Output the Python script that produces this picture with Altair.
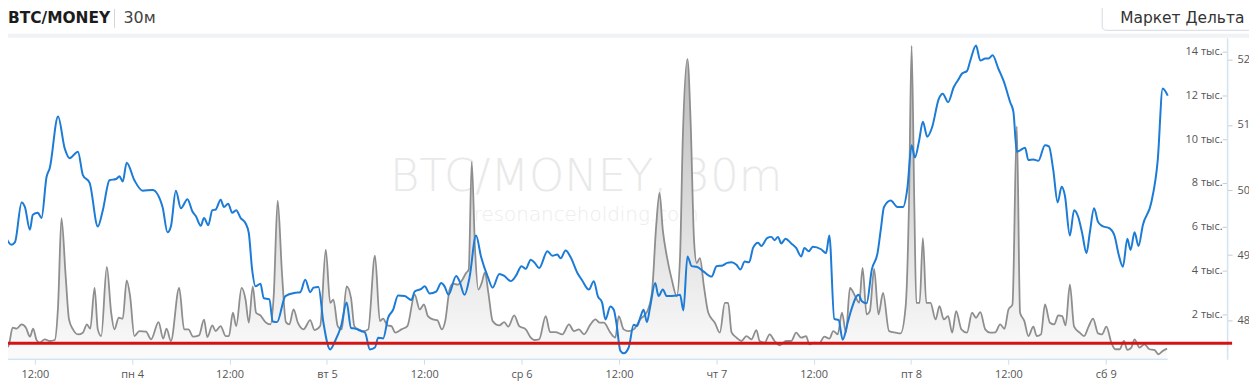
import json
import altair as alt
import pandas as pd

# ---------------- data ----------------
# hours relative to Mon 4, 00:00
price_hours = [-15.7, -14.9, -14.45, -13.63, -13.23, -12.61, -12.25, -11.63, -11.18, -10.56, -10.16, -9.14, -8.32, -7.71,
               -6.69, -6.08, -5.25, -4.24, -3.62, -2.8, -1.98, -1.57, -1.17, -0.68, 0.27, 1.29, 2.51, 3.74, 4.35, 4.77,
               5.38, 6.0, 6.81, 7.42, 7.84, 8.45, 8.85, 9.38, 9.87, 10.29, 10.90, 11.31, 11.83, 12.33, 12.82, 13.36,
               13.97, 14.37, 14.78, 15.20, 15.81, 16.21, 16.91, 17.32, 17.85, 18.88, 20.10, 20.72, 21.33, 21.94, 22.35,
               22.96, 23.57, 24.40, 25.01, 25.75, 26.43, 26.97, 27.46, 28.27, 28.69, 29.30, 29.92, 30.32, 30.93, 31.55,
               32.16, 32.77, 33.60, 34.41, 34.82, 35.63, 36.05, 36.66, 37.47, 38.09, 38.50, 38.99, 39.93, 40.34, 40.96,
               41.57, 42.38, 42.99, 43.82, 44.43, 45.25, 45.86, 46.67, 47.29, 47.99, 48.51, 49.13, 49.62, 50.16, 51.18,
               51.79, 52.40, 52.81, 53.42, 54.03, 54.86, 55.47, 56.29, 56.90, 57.39, 57.92, 58.33, 58.94, 59.36, 59.68,
               60.17, 60.58, 61.20, 61.81, 62.22, 62.62, 63.04, 63.44, 63.85, 64.46, 64.88, 65.40, 65.90, 67.12, 67.53,
               67.94, 68.44, 68.96, 69.58, 70.40, 71.42, 72.03, 72.77, 73.34, 73.87, 74.48, 74.97, 75.50, 76.04, 76.53,
               77.14, 77.55, 78.25, 78.78, 79.18, 79.60, 80.00, 80.53, 81.23, 81.84, 82.46, 82.86, 83.40, 83.89, 84.91,
               85.52, 85.93, 86.54, 87.08, 87.57, 88.19, 88.59, 89.53, 89.94, 90.52, 91.17, 91.87, 92.27, 92.67, 93.50,
               94.32, 95.01, 95.55, 96.07, 96.48, 96.97, 97.46, 98.00, 98.61, 99.42, 99.91, 100.57, 101.26, 101.80,
               102.29, 102.90, 103.31, 104.01, 104.54, 105.15, 105.56, 106.05, 106.78, 107.40, 108.22, 108.62, 109.04,
               109.44, 110.06, 110.46, 111.08, 111.69, 112.51, 113.00, 113.53, 114.07, 114.56, 114.96, 115.58, 116.10,
               116.60, 117.09, 117.63, 118.03, 118.56, 119.05, 119.54, 120.48, 121.10, 121.59, 122.12, 122.66, 123.06,
               123.55, 124.04, 124.57, 125.60, 126.41, 127.02, 127.64]
price_values = [49.31, 49.16, 49.20, 49.81, 49.74, 49.39, 49.62, 49.65, 49.57, 50.20, 50.34, 51.13, 50.64, 50.49,
                50.59, 50.23, 50.11, 49.44, 49.69, 50.15, 50.17, 50.21, 50.13, 50.42, 50.15, 49.99, 50.00, 49.74, 49.35,
                49.44, 49.99, 49.72, 49.86, 49.67, 49.60, 49.45, 49.57, 49.46, 49.69, 49.70, 49.85, 49.74, 49.79, 49.65,
                49.69, 49.57, 49.49, 49.34, 48.78, 48.52, 48.56, 48.34, 48.32, 47.98, 47.97, 48.37, 48.42, 48.43, 48.62,
                48.43, 48.50, 48.51, 47.96, 47.55, 47.68, 47.91, 48.27, 47.88, 47.87, 47.83, 47.81, 47.55, 47.58, 47.73,
                47.72, 48.04, 48.16, 48.38, 48.37, 48.31, 48.44, 48.48, 48.52, 48.41, 48.44, 48.57, 48.52, 48.39, 48.68,
                48.60, 48.39, 48.65, 49.30, 48.98, 48.67, 48.50, 48.71, 48.68, 48.60, 48.68, 48.83, 48.79, 48.93, 48.88,
                48.80, 49.06, 48.99, 49.01, 48.95, 49.07, 48.97, 48.73, 48.61, 48.47, 48.60, 48.37, 48.27, 48.01, 48.21,
                48.16, 47.96, 47.53, 47.49, 47.58, 47.93, 47.91, 48.04, 48.16, 47.97, 48.21, 48.57, 48.37, 48.47, 48.37,
                48.38, 48.39, 48.15, 48.98, 48.83, 48.82, 48.75, 48.67, 48.83, 48.84, 48.88, 48.89, 48.85, 48.78, 48.90,
                48.89, 49.11, 49.19, 49.14, 49.26, 49.28, 49.23, 49.28, 49.18, 49.25, 49.18, 49.11, 48.98, 49.11, 49.06,
                49.13, 49.09, 49.03, 49.30, 48.02, 48.00, 47.70, 47.96, 48.14, 48.39, 48.29, 48.26, 48.78, 49.03, 49.39,
                49.74, 49.84, 49.74, 49.74, 50.03, 50.69, 50.50, 50.74, 51.05, 50.82, 50.97, 51.40, 51.48, 51.35, 51.58,
                51.69, 51.79, 51.83, 51.99, 52.22, 51.99, 52.02, 52.02, 52.07, 51.86, 51.68, 51.35, 51.20, 50.59, 50.61,
                50.65, 50.46, 50.47, 50.45, 50.69, 50.67, 50.31, 49.81, 50.05, 49.92, 49.30, 49.69, 49.59, 49.34, 49.03,
                49.34, 49.72, 49.51, 49.45, 49.41, 49.29, 49.01, 48.82, 49.25, 49.08, 49.35, 49.14, 49.46, 49.80, 50.46,
                51.56, 51.45]

delta_hours = [-15.68, -15.28, -14.74, -14.24, -13.63, -13.10, -12.61, -12.21, -11.79, -11.39, -10.77, -10.16, -9.55,
               -9.14, -8.72, -8.20, -7.79, -7.30, -6.69, -6.08, -5.58, -5.17, -4.64, -4.24, -3.82, -3.13, -2.59, -2.19,
               -1.66, -1.17, -0.68, -0.26, 0.27, 0.88, 1.70, 2.32, 3.25, 3.82, 4.23, 4.77, 5.79, 6.40, 6.93, 7.50, 8.24,
               8.85, 9.26, 9.87, 10.29, 10.90, 11.52, 11.92, 12.41, 12.82, 13.48, 13.97, 14.37, 14.86, 15.27, 15.81,
               16.42, 17.04, 17.44, 17.93, 18.46, 18.95, 19.37, 19.89, 20.42, 21.12, 21.94, 22.47, 23.17, 23.86, 24.40,
               24.80, 25.33, 25.82, 26.43, 26.97, 27.38, 27.87, 28.48, 29.09, 29.92, 30.53, 30.93, 31.46, 31.95, 32.44,
               33.18, 33.92, 34.82, 35.44, 35.96, 36.45, 37.07, 37.60, 38.17, 38.58, 39.12, 39.52, 40.13, 40.75, 41.15,
               41.48, 41.85, 42.26, 42.67, 43.08, 43.48, 43.90, 44.43, 45.25, 45.86, 46.35, 47.09, 47.70, 48.51, 49.13,
               49.54, 50.16, 50.97, 51.51, 52.19, 53.02, 53.84, 54.45, 55.06, 55.68, 56.49, 57.10, 57.64, 58.13, 58.94,
               59.55, 59.97, 60.58, 61.20, 61.81, 62.62, 63.44, 64.06, 64.58, 65.00, 65.40, 65.90, 66.51, 67.12, 67.53,
               67.86, 68.44, 68.84, 69.25, 69.58, 69.98, 70.47, 71.01, 71.82, 72.43, 73.05, 73.46, 73.87, 74.48, 75.10,
               75.71, 76.32, 76.94, 77.34, 77.95, 78.57, 79.18, 79.79, 80.62, 81.23, 81.84, 82.46, 83.07, 83.47, 84.09,
               84.70, 85.31, 85.93, 86.42, 86.96, 87.49, 87.98, 88.47, 89.12, 89.61, 90.03, 90.52, 90.92, 91.45, 91.99,
               92.55, 93.29, 94.11, 94.72, 95.34, 95.74, 96.07, 96.41, 96.65, 97.06, 97.46, 97.88, 98.40, 99.02, 99.51,
               100.03, 100.57, 101.07, 101.56, 102.21, 102.90, 103.52, 104.01, 104.54, 105.15, 105.76, 106.38, 106.99,
               107.52, 108.01, 108.50, 109.04, 109.44, 109.97, 110.46, 111.08, 111.49, 112.02, 112.51, 113.12, 113.65,
               114.14, 114.63, 115.05, 115.58, 116.10, 116.80, 117.33, 117.91, 118.44, 119.05, 119.54, 120.08, 120.69,
               121.18, 121.71, 122.24, 122.66, 123.15, 123.55, 124.16, 124.78, 125.39, 126.00, 126.49, 127.02, 127.56]
delta_values = [635, 531, 1393, 1348, 1543, 1393, 985, 1348, 831, 713, 862, 785, 831, 2374, 6386, 3736, 1770, 1316,
                1089, 1167, 1543, 1348, 3209, 1316, 1012, 4162, 2074, 1316, 1847, 1802, 3554, 2828, 1012, 1239, 1212,
                862, 1648, 894, 1348, 785, 3209, 1316, 1316, 985, 1044, 1757, 962, 1498, 1239, 1466, 1012, 1012, 2074,
                1466, 3209, 2678, 1620, 3282, 2074, 1952, 1648, 1543, 2828, 7185, 3890, 1648, 1543, 2224, 1620, 1316,
                1738, 1285, 1466, 4948, 2528, 2678, 1466, 1316, 3282, 2755, 1466, 1316, 1239, 1316, 4675, 1693, 1802,
                1498, 1466, 1167, 1316, 1466, 2905, 2224, 2451, 1920, 1770, 1738, 1316, 1693, 3132, 3404, 3359, 3618,
                3890, 4040, 8955, 4948, 3132, 3436, 3917, 2982, 1693, 1498, 1648, 1439, 1952, 1466, 1316, 940, 831, 862,
                1920, 1194, 1194, 1089, 1543, 1239, 1316, 1089, 1543, 1770, 1620, 1620, 1167, 940, 1920, 1316, 1239,
                1316, 1770, 2102, 2982, 6005, 7548, 5855, 4643, 3586, 2828, 4643, 9940, 13649, 10698, 5401, 4344, 4571,
                3282, 2074, 1620, 1167, 2528, 2528, 1194, 940, 785, 1012, 862, 1285, 785, 713, 1089, 785, 590, 785, 785,
                1167, 940, 1012, 635, 713, 681, 985, 894, 1239, 1089, 2074, 1167, 3209, 2828, 2528, 4117, 1997, 2147,
                4071, 1997, 2982, 1239, 1167, 1135, 2374, 6913, 14252, 6913, 2528, 2528, 5479, 2528, 2528, 1770, 2374,
                1770, 1920, 1167, 2147, 1316, 1167, 2074, 1847, 2102, 1316, 1167, 1180, 1543, 1339, 2224, 2451, 10576,
                2074, 1693, 1012, 1439, 1012, 1089, 2451, 1620, 1543, 1952, 1920, 1498, 3359, 1439, 1167, 1012, 1466,
                1802, 1135, 1089, 1439, 713, 409, 409, 785, 377, 486, 862, 486, 635, 409, 377, 182, 331, 440]

tick_hours = [-12, 0, 12, 24, 36, 48, 60, 72, 84, 96, 108, 120]
tick_labels = ["12:00", "пн 4", "12:00", "вт 5", "12:00", "ср 6", "12:00", "чт 7", "12:00", "пт 8", "12:00", "сб 9"]
delta_ticks = [2000, 4000, 6000, 8000, 10000, 12000, 14000]
price_ticks = [48, 49, 50, 51, 52]
red_level = 680

title_main = "BTC/MONEY"
title_tf = "30м"
button_text = "Маркет Дельта"
wm_main = "BTC/MONEY, 30m"
wm_sub = "resonanceholding.com"

# ---------------- chart ----------------
W, H = 1225, 323
FONT = "Open Sans"
x_dom = [-15.31, 134.96]

df_p = pd.DataFrame({"h": price_hours, "p": price_values})
df_d = pd.DataFrame({"h": delta_hours, "d": delta_values})
one = pd.DataFrame({"k": [0]})

label_expr = (json.dumps(tick_labels, ensure_ascii=False) + "[indexof(" + json.dumps(tick_hours) + ", datum.value)]")

x_enc = alt.X("h:Q", scale=alt.Scale(domain=x_dom, nice=False, zero=False),
              axis=alt.Axis(values=tick_hours, labelExpr=label_expr, domain=False, grid=False,
                            tickColor="#d3dce6", tickSize=5, labelColor="#555555", labelFont=FONT,
                            labelFontSize=11, labelPadding=4, title=None))

d_scale = alt.Scale(domain=[-45, 14620], nice=False, zero=False)
d_enc = alt.Y("d:Q", scale=d_scale,
              axis=alt.Axis(orient="left", offset=-W, values=delta_ticks,
                            labelExpr="format(datum.value/1000, 'd') + ' тыс.'",
                            domain=False, grid=False, tickColor="#cccccc", tickSize=5,
                            labelColor="#555555", labelFont=FONT, labelFontSize=11, labelPadding=0, title=None))

p_enc = alt.Y("p:Q", scale=alt.Scale(domain=[47.40, 52.34], nice=False, zero=False),
              axis=alt.Axis(orient="right", values=price_ticks, format="d", domainColor="#d3e3f1",
                            domainWidth=1.5, grid=False, tickColor="#cccccc", tickSize=5,
                            labelColor="#555555", labelFont=FONT, labelFontSize=11, labelPadding=5, title=None))

# watermark
wm1 = alt.Chart(one).mark_text(text=wm_main, font="DejaVu Sans", fontWeight=200, fontSize=45, color="#e9e9e9",
                               align="center", baseline="alphabetic").encode(x=alt.value(581), y=alt.value(154))
wm2 = alt.Chart(one).mark_text(text=wm_sub, font="DejaVu Sans", fontWeight=200, fontSize=20, color="#ececec",
                               align="center", baseline="alphabetic").encode(x=alt.value(581), y=alt.value(184))

area = alt.Chart(df_d).mark_area(
    interpolate="monotone", clip=True,
    color=alt.Gradient(gradient="linear",
                       stops=[alt.GradientStop(color="#b8b8b8", offset=0),
                              alt.GradientStop(color="#fbfbfb", offset=1)],
                       x1=1, x2=1, y1=0, y2=1)
).encode(x=x_enc, y=d_enc)
gline = alt.Chart(df_d).mark_line(interpolate="monotone", color="#8e8e8e", strokeWidth=1.8, clip=True).encode(
    x=x_enc, y=d_enc)
delta_layer = alt.layer(area, gline)

bline = alt.Chart(df_p).mark_line(interpolate="monotone", color="#1b7bd6", strokeWidth=2, clip=True).encode(
    x=x_enc, y=p_enc)

red = alt.Chart(pd.DataFrame({"d": [red_level]})).mark_rule(color="#d41414", strokeWidth=3).encode(
    y=alt.Y("d:Q", scale=d_scale, axis=None), x=alt.value(-8), x2=alt.value(1230))

base_rule = alt.Chart(pd.DataFrame({"h": [price_hours[0]], "h2": [price_hours[-1]]})).mark_rule(
    color="#d3e3f1", strokeWidth=1.5).encode(x=x_enc, x2="h2:Q", y=alt.value(H))

# header
band = alt.Chart(one).mark_rect(color="#f0f2f5").encode(
    x=alt.value(-8), x2=alt.value(1250), y=alt.value(-4), y2=alt.value(0))
t1 = alt.Chart(one).mark_text(text=title_main, font="DejaVu Sans", fontWeight="bold", fontSize=15.5,
                              color="#1c1c1c", align="left", baseline="middle").encode(
    x=alt.value(0), y=alt.value(-20))
sep = alt.Chart(one).mark_rule(color="#d5d5d5", strokeWidth=1).encode(
    x=alt.value(107), y=alt.value(-29), y2=alt.value(-10))
t2 = alt.Chart(one).mark_text(text=title_tf, font="DejaVu Sans", fontSize=16, color="#444444",
                              align="left", baseline="middle").encode(x=alt.value(116), y=alt.value(-20))
btn = alt.Chart(one).mark_rect(fill="white", stroke="#d4dae2", strokeWidth=1, cornerRadius=4).encode(
    x=alt.value(1099.5), x2=alt.value(1262), y=alt.value(-35), y2=alt.value(-7.5))
t3 = alt.Chart(one).mark_text(text=button_text, font="DejaVu Sans", fontSize=15.5, color="#333333",
                              align="center", baseline="middle").encode(x=alt.value(1180), y=alt.value(-20))

chart = alt.layer(
    wm1, wm2, delta_layer, bline, red, base_rule, band, sep, btn, t1, t2, t3
).resolve_scale(y="independent").properties(
    width=W, height=H,
    autosize=alt.AutoSizeParams(type="none"),
    padding={"left": 0, "top": 29, "right": 22, "bottom": 24},
    background="white",
).configure_view(stroke=None)

chart.save("out.html", embed_options={"renderer": "svg", "actions": False})
